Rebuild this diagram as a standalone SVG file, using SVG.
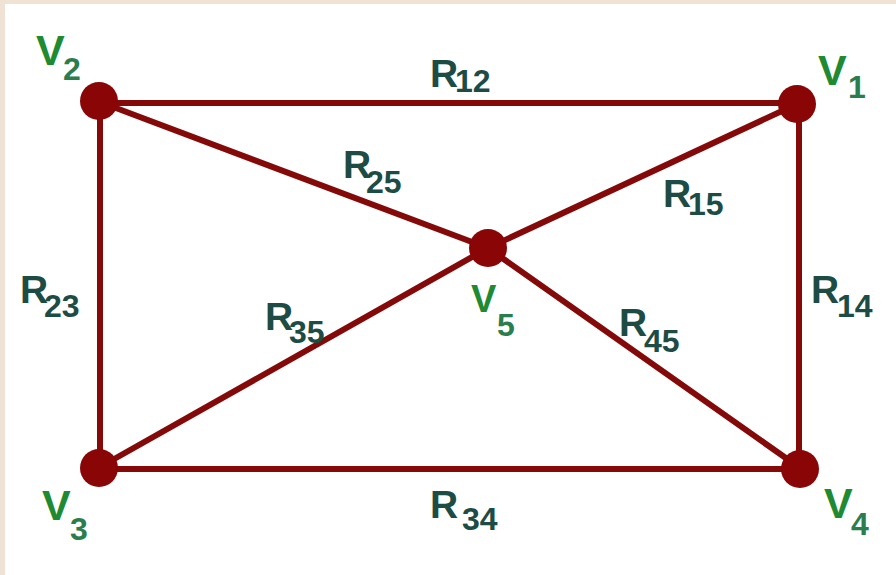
<svg xmlns="http://www.w3.org/2000/svg" width="896" height="575" viewBox="0 0 896 575">
<style>
.edge{stroke:#840a0a;stroke-width:6;fill:none;stroke-linecap:round}
.node{fill:#8a0505}
.v{font-family:"Liberation Sans",Arial,sans-serif;font-weight:bold;font-size:43px;fill:#1e8a32}
.vs{font-family:"Liberation Sans",Arial,sans-serif;font-size:32px;fill:#2a7d4c}
.r{font-family:"Liberation Sans",Arial,sans-serif;font-weight:bold;font-size:39px;fill:#1d4c45}
.rs{font-family:"Liberation Sans",Arial,sans-serif;font-size:32px;fill:#1d4c45}
</style>
<rect x="0" y="0" width="896" height="575" fill="#f0e2d4"/>
<rect x="5" y="4" width="891" height="571" fill="#ffffff"/>
<g id="connectors">
<line id="e12" class="edge" x1="100" y1="103" x2="797" y2="103"/>
<line id="e14" class="edge" x1="799" y1="104" x2="799" y2="468"/>
<line id="e23" class="edge" x1="100" y1="102" x2="100" y2="467"/>
<line id="e34" class="edge" x1="100" y1="469" x2="800" y2="469"/>
<line id="e25" class="edge" x1="100" y1="102" x2="488" y2="248"/>
<line id="e15" class="edge" x1="797" y1="104" x2="488" y2="248"/>
<line id="e35" class="edge" x1="100" y1="467" x2="488" y2="248"/>
<line id="e45" class="edge" x1="800" y1="468" x2="488" y2="248"/>
<text class="r" x="430" y="87">R<tspan class="rs" x="455" y="92">12</tspan></text>
<text class="r" x="343" y="178">R<tspan class="rs" x="366" y="193">25</tspan></text>
<text class="r" x="663" y="207">R<tspan class="rs" x="688" y="215">15</tspan></text>
<text class="r" x="20" y="303">R<tspan class="rs" x="44" y="317">23</tspan></text>
<text class="r" x="811" y="303">R<tspan class="rs" x="837" y="317">14</tspan></text>
<text class="r" x="265" y="330">R<tspan class="rs" x="289" y="343">35</tspan></text>
<text class="r" x="619" y="336">R<tspan class="rs" x="644" y="352">45</tspan></text>
<text class="r" x="430" y="518">R<tspan class="rs" x="462" y="530">34</tspan></text>
</g>
<g id="V1"><circle class="node" cx="797" cy="104" r="19"/><text class="v" x="818" y="85">V<tspan class="vs" x="848" y="98">1</tspan></text></g>
<g id="V2"><circle class="node" cx="99" cy="101" r="19"/><text class="v" x="36" y="65">V<tspan class="vs" x="63" y="80">2</tspan></text></g>
<g id="V3"><circle class="node" cx="99" cy="468" r="19"/><text class="v" x="42" y="520">V<tspan class="vs" x="70" y="540">3</tspan></text></g>
<g id="V4"><circle class="node" cx="800" cy="469" r="19"/><text class="v" x="824" y="518">V<tspan class="vs" x="851" y="535">4</tspan></text></g>
<g id="V5"><circle class="node" cx="488" cy="248" r="19"/><text class="v" x="471" y="312" style="font-size:38px">V<tspan class="vs" x="497" y="336">5</tspan></text></g>
</svg>
